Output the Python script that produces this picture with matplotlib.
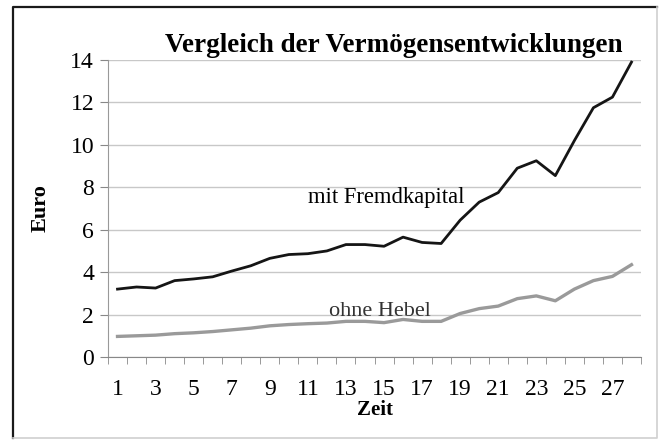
import numpy as np
import matplotlib
matplotlib.use('Agg')
import matplotlib.pyplot as plt
from matplotlib.lines import Line2D

plt.rcParams['font.family'] = ['Liberation Serif', 'DejaVu Serif']

# data
zeit = list(range(1, 29))
mit_fremdkapital = [3.2, 3.3, 3.25, 3.6, 3.68, 3.78, 4.05, 4.3, 4.65, 4.83, 4.87, 5.0,
                    5.3, 5.3, 5.22, 5.65, 5.4, 5.35, 6.45, 7.3, 7.75, 8.9, 9.25, 8.55,
                    10.2, 11.75, 12.25, 13.9]
ohne_hebel = [0.97, 1.0, 1.03, 1.1, 1.14, 1.2, 1.28, 1.36, 1.47, 1.53, 1.57, 1.6,
              1.68, 1.68, 1.62, 1.77, 1.68, 1.68, 2.05, 2.28, 2.4, 2.75, 2.88, 2.65,
              3.2, 3.6, 3.8, 4.35]
tick_labels = [str(z) for z in zeit if z % 2 == 1]

W, H = 663, 441
fig = plt.figure(figsize=(W / 100, H / 100), dpi=100)

# outer frame: dark left/top, light right/bottom
l, r, t, b = 12.5 / W, 657 / W, 1 - 6.5 / H, 1 - 438 / H
fig.lines.append(Line2D([l, l, r], [b, t, t], transform=fig.transFigure,
                        color='#1a1a1a', linewidth=1.6))
fig.lines.append(Line2D([r, r, l], [t, b, b], transform=fig.transFigure,
                        color='#d0d0d0', linewidth=1.2))

ax = fig.add_axes([108 / W, 1 - 357 / H, (641 - 108) / W, (357 - 60) / H])

x = np.arange(len(zeit))
ax.plot(x, mit_fremdkapital, color='#151515', linewidth=2.0)
ax.plot(x, ohne_hebel, color='#9a9a9a', linewidth=2.4)

ax.set_xlim(-0.5, len(zeit) - 0.5)
ax.set_ylim(0, 14)
ax.set_yticks(np.arange(0, 15, 2))
ax.set_xticks(x[::2])
ax.set_xticklabels(tick_labels)
ax.set_xticks(np.arange(-0.5, len(zeit), 1), minor=True)
ax.tick_params(axis='x', which='major', length=0, pad=16, labelsize=17)
ax.tick_params(axis='x', which='minor', length=5, color='#888888')
ax.tick_params(axis='y', length=6, color='#888888', labelsize=17, pad=4)

ax.grid(axis='y', color='#c8c8c8', linewidth=1.0)
ax.set_axisbelow(True)
for s in ['top', 'right']:
    ax.spines[s].set_visible(False)
ax.spines['left'].set_color('#999999')
ax.spines['bottom'].set_color('#888888')

ax.set_title('Vergleich der Vermögensentwicklungen', fontsize=19.5, fontweight='bold',
             x=0.537, pad=6)
ax.set_ylabel('Euro', fontsize=16, fontweight='bold', labelpad=14)
ax.set_xlabel('Zeit', fontsize=15, fontweight='bold', labelpad=0)

ax.text(14.1, 7.5, 'mit Fremdkapital', fontsize=16.3, ha='center', va='center')
ax.text(13.8, 2.15, 'ohne Hebel', fontsize=16, ha='center', va='center', color='#333333')

fig.savefig('out.png', dpi=100)
